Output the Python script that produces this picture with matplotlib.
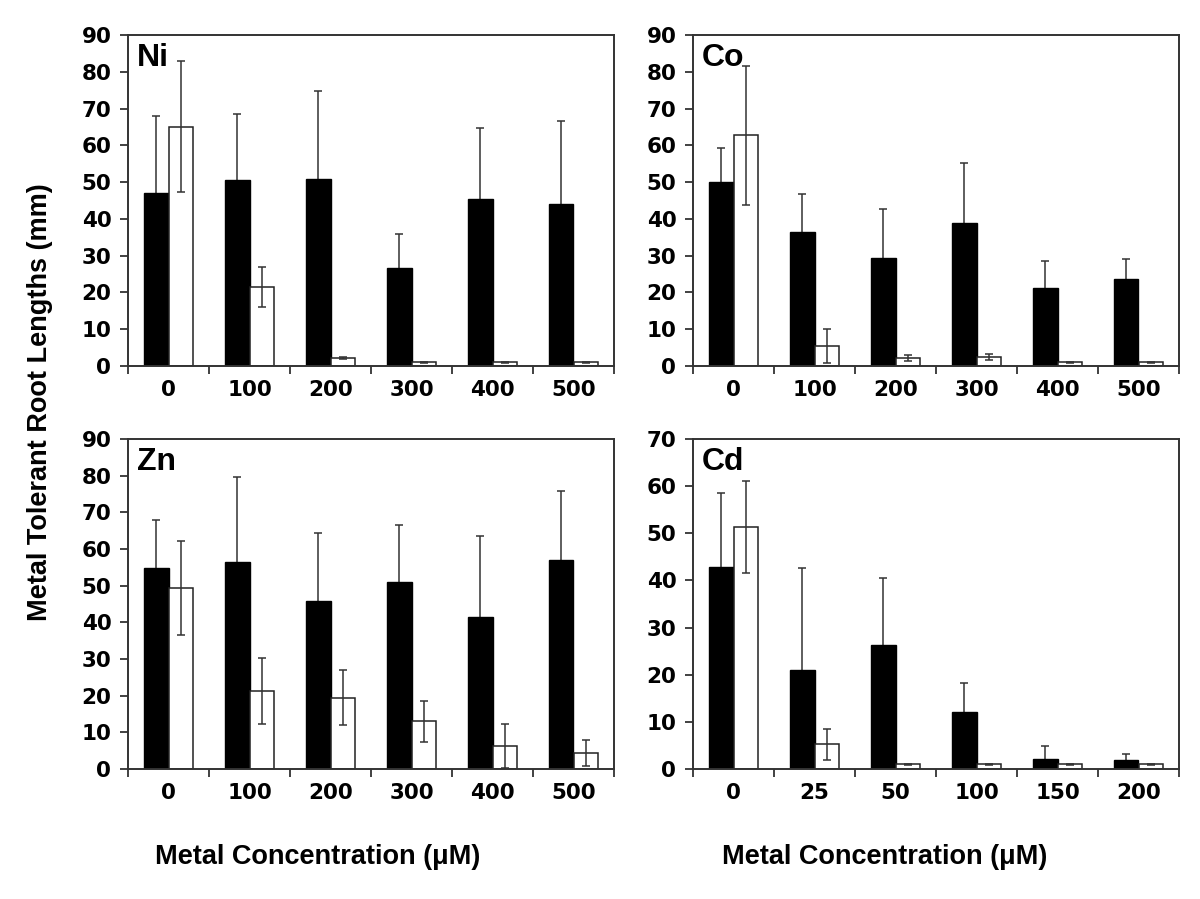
import matplotlib
matplotlib.use("Agg")
import matplotlib.pyplot as plt
import numpy as np

# ---------------- data ----------------
metals = ["Ni", "Co", "Zn", "Cd"]
conc_labels = {
    "Ni": ["0", "100", "200", "300", "400", "500"],
    "Co": ["0", "100", "200", "300", "400", "500"],
    "Zn": ["0", "100", "200", "300", "400", "500"],
    "Cd": ["0", "25", "50", "100", "150", "200"],
}
tolerant = {
    "Ni": [47.1, 50.5, 50.9, 26.6, 45.4, 44.0],
    "Co": [49.9, 36.4, 29.5, 39.0, 21.1, 23.7],
    "Zn": [54.8, 56.4, 45.7, 51.1, 41.4, 56.9],
    "Cd": [42.9, 21.1, 26.2, 12.0, 2.1, 1.9],
}
tolerant_err = {
    "Ni": [20.8, 18.1, 23.8, 9.2, 19.3, 22.5],
    "Co": [9.3, 10.3, 13.1, 16.2, 7.5, 5.3],
    "Zn": [13.0, 23.3, 18.7, 15.4, 22.2, 18.9],
    "Cd": [15.7, 21.5, 14.3, 6.2, 2.8, 1.3],
}
sensitive = {
    "Ni": [65.0, 21.5, 2.2, 1.0, 1.0, 1.0],
    "Co": [62.7, 5.5, 2.1, 2.5, 1.0, 1.0],
    "Zn": [49.4, 21.3, 19.5, 13.0, 6.2, 4.4],
    "Cd": [51.3, 5.2, 1.0, 1.0, 1.0, 1.0],
}
sensitive_err = {
    "Ni": [17.8, 5.5, 0.2, 0.1, 0.1, 0.1],
    "Co": [19.0, 4.6, 0.8, 0.8, 0.1, 0.1],
    "Zn": [12.8, 9.0, 7.5, 5.5, 6.0, 3.5],
    "Cd": [9.8, 3.3, 0.1, 0.1, 0.1, 0.1],
}
ymax = {"Ni": 90, "Co": 90, "Zn": 90, "Cd": 70}
ylabel = "Metal Tolerant Root Lengths (mm)"
xlabel = "Metal Concentration (\u03bcM)"

W, H = 1200, 899
fig = plt.figure(figsize=(W / 100, H / 100), dpi=100)

# axes rectangles in pixel coords (left, top, right, bottom)
rects = {
    "Ni": (128, 35, 614, 366),
    "Co": (693, 35, 1179, 366),
    "Zn": (128, 439, 614, 769),
    "Cd": (693, 439, 1179, 769),
}

bw = 0.3
for m in metals:
    l, t, r, b = rects[m]
    ax = fig.add_axes([l / W, (H - b) / H, (r - l) / W, (b - t) / H])
    x = np.arange(len(conc_labels[m]))
    # black-bar error bars sit behind the bars so only the upper half shows
    ax.errorbar(x - bw / 2, tolerant[m], yerr=tolerant_err[m], fmt="none",
                ecolor="#333333", elinewidth=1.1, capsize=3.2, capthick=1.1, zorder=1)
    ax.bar(x - bw / 2, tolerant[m], bw, color="black", edgecolor="black",
           linewidth=1.0, zorder=2)
    ax.bar(x + bw / 2, sensitive[m], bw, color="white", edgecolor="#222222",
           linewidth=1.1, zorder=2)
    ax.errorbar(x + bw / 2, sensitive[m], yerr=sensitive_err[m], fmt="none",
                ecolor="#333333", elinewidth=1.1, capsize=3.2, capthick=1.1, zorder=3)

    ax.set_xlim(-0.5, len(x) - 0.5)
    ax.set_ylim(0, ymax[m])
    ax.set_yticks(np.arange(0, ymax[m] + 1, 10))
    ax.set_xticks(x)
    ax.set_xticklabels(conc_labels[m])
    ax.set_xticks(np.arange(-0.5, len(x), 1.0), minor=True)
    ax.tick_params(axis="x", which="major", length=0, pad=10,
                   labelsize=15.5)
    ax.tick_params(axis="x", which="minor", length=6, width=1.3,
                   direction="out", color="#333333")
    ax.tick_params(axis="y", length=6, width=1.3, direction="out",
                   color="#333333", pad=6, labelsize=15.5)
    for lab in ax.get_xticklabels() + ax.get_yticklabels():
        lab.set_fontweight("bold")
        lab.set_family("DejaVu Sans")
    for s in ax.spines.values():
        s.set_linewidth(1.4)
        s.set_color("#333333")
    ax.text(0.018, 0.975, m, transform=ax.transAxes, ha="left", va="top",
            fontsize=23, fontweight="bold", family="Liberation Sans")

# axis titles
fig.text(40 / W, 1 - 402 / H, ylabel, rotation=90, ha="center", va="center",
         fontsize=19.5, fontweight="bold", family="Liberation Sans")
for cx in (318, 885):
    fig.text(cx / W, 1 - 857 / H, xlabel, ha="center", va="center",
             fontsize=19.5, fontweight="bold", family="Liberation Sans")

fig.savefig("out.png", dpi=100)
